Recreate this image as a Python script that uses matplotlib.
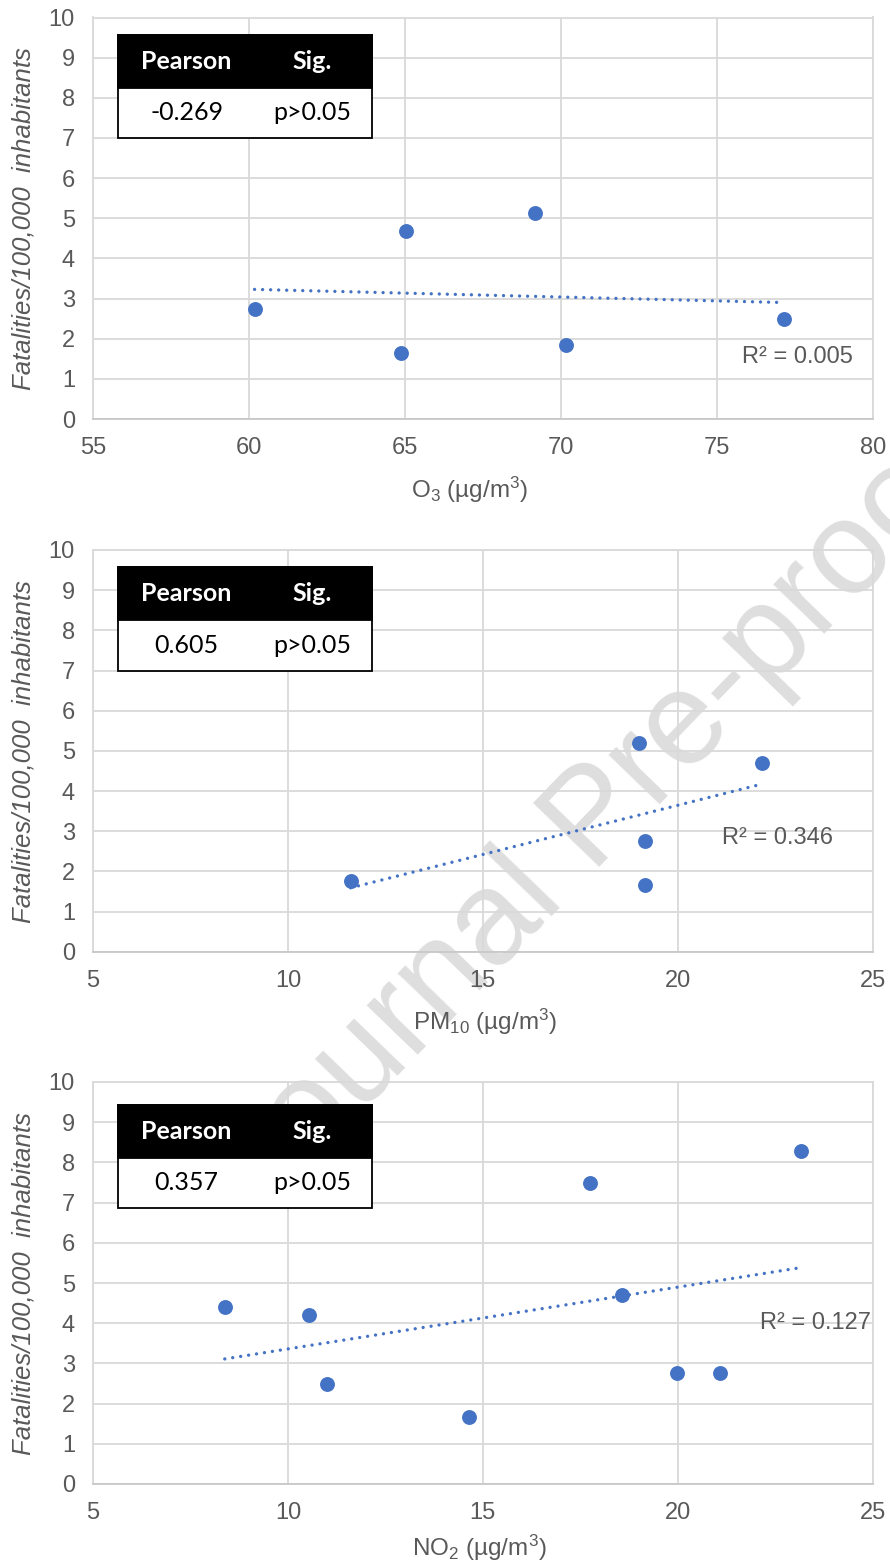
import numpy as np
import matplotlib
matplotlib.use("Agg")
import matplotlib.pyplot as plt
from matplotlib.patches import Rectangle

plt.rcParams["font.family"] = ["Liberation Sans", "DejaVu Sans"]
plt.rcParams["mathtext.fontset"] = "custom"
plt.rcParams["mathtext.rm"] = "Liberation Sans"
plt.rcParams["mathtext.it"] = "Liberation Sans:italic"

# data
o3_x = [60.18, 65.04, 64.86, 69.16, 70.18, 77.17]
o3_y = [2.73, 4.67, 1.64, 5.13, 1.84, 2.48]

pm10_x = [11.61, 19.0, 22.17, 19.15, 19.15]
pm10_y = [1.76, 5.19, 4.69, 2.75, 1.65]

no2_x = [8.38, 10.53, 10.99, 14.64, 17.76, 18.58, 19.97, 21.09, 23.15]
no2_y = [4.40, 4.20, 2.50, 1.66, 7.48, 4.69, 2.75, 2.75, 8.28]

x_labels = ["O$_3$ (µg/m$^3$)", "PM$_{10}$ (µg/m$^3$)", "NO$_2$ (µg/m$^3$)"]
x_limits = [(55, 80), (5, 25), (5, 25)]
pearson = ["-0.269", "0.605", "0.357"]
sig = ["p>0.05", "p>0.05", "p>0.05"]
r2_text = ["R² = 0.005", "R² = 0.346", "R² = 0.127"]
y_label = "Fatalities/100,000  inhabitants"

blue = "#4472C4"
grey_txt = "#595959"
grid_col = "#d9d9d9"

W, H = 890, 1566
fig = plt.figure(figsize=(W / 100, H / 100), dpi=100)
fig.patch.set_facecolor("white")

# axes boxes in pixels: (top, bottom)
boxes = [(17.5, 419), (550, 951.7), (1082, 1484)]
table_top = [0.956, 0.957, 0.943]
r2_pos = [(0.904, 0.155), (0.878, 0.282), (0.926, 0.400)]
xlab_x = [0.4835, 0.503, 0.496]
xlab_off = [71, 70, 64]

series = [(o3_x, o3_y), (pm10_x, pm10_y), (no2_x, no2_y)]

for i, (xs, ys) in enumerate(series):
    top, bot = boxes[i]
    ax = fig.add_axes([93 / W, 1 - bot / H, 779.7 / W, (bot - top) / H])
    ax.set_facecolor("none")

    ax.scatter(xs, ys, s=115, color=blue, zorder=4, linewidths=0)

    # linear trendline
    k, b = np.polyfit(xs, ys, 1)
    tx = np.array([min(xs), max(xs)])
    ax.plot(tx, k * tx + b, color=blue, lw=2.4, ls=(0, (0.01, 2.4)),
            dash_capstyle="round", zorder=3)

    ax.set_xlim(*x_limits[i])
    ax.set_ylim(0, 10)
    ax.set_xticks(np.arange(x_limits[i][0], x_limits[i][1] + 1, 5))
    ax.set_yticks(np.arange(0, 11, 1))
    ax.grid(True, color=grid_col, lw=1.3)
    ax.set_axisbelow(True)
    for s in ax.spines.values():
        s.set_color(grid_col)
        s.set_linewidth(1.3)
    ax.spines["bottom"].set_color("#c8c8c8")
    ax.tick_params(length=0, labelsize=17, labelcolor=grey_txt, pad=13)

    ax.set_ylabel(y_label, fontsize=18.5, style="italic", color=grey_txt,
                  va="center")
    ax.yaxis.set_label_coords(-0.089, 0.498)
    ax.set_xlabel(x_labels[i], fontsize=17.5, color=grey_txt, va="center")
    ax.xaxis.set_label_coords(xlab_x[i], -(xlab_off[i] / (bot - top)))

    ax.text(r2_pos[i][0], r2_pos[i][1], r2_text[i], transform=ax.transAxes,
            fontsize=17, color=grey_txt, ha="center", va="center", zorder=5)

    # correlation table
    t0 = table_top[i]
    x0, x1 = 0.0325, 0.3574
    hh = 0.131
    ax.add_patch(Rectangle((x0, t0 - 2 * hh + 0.005), x1 - x0, 2 * hh - 0.005,
                           transform=ax.transAxes, facecolor="white",
                           edgecolor="black", lw=1.3, zorder=6))
    ax.add_patch(Rectangle((x0, t0 - hh), x1 - x0, hh, transform=ax.transAxes,
                           facecolor="black", edgecolor="black", lw=1.3, zorder=7))
    c1, c2 = 0.120, 0.281
    ax.text(c1, t0 - hh / 2, "Pearson", transform=ax.transAxes, color="white",
            fontsize=18, fontweight="bold", family="Lato",
            ha="center", va="center", zorder=8)
    ax.text(c2, t0 - hh / 2, "Sig.", transform=ax.transAxes, color="white",
            fontsize=18, fontweight="bold", family="Lato",
            ha="center", va="center", zorder=8)
    ax.text(c1, t0 - 1.5 * hh + 0.003, pearson[i], transform=ax.transAxes,
            color="black", fontsize=18, family="Lato",
            ha="center", va="center", zorder=8)
    ax.text(c2, t0 - 1.5 * hh + 0.003, sig[i], transform=ax.transAxes,
            color="black", fontsize=18, family="Lato",
            ha="center", va="center", zorder=8)

# watermark
fig.text(596 / W, 1 - 821 / H, "Journal Pre-proof", fontsize=96, color="#dedede",
         rotation=46, ha="center", va="center", rotation_mode="anchor", zorder=-1)

fig.savefig("out.png", dpi=100, facecolor="white")
